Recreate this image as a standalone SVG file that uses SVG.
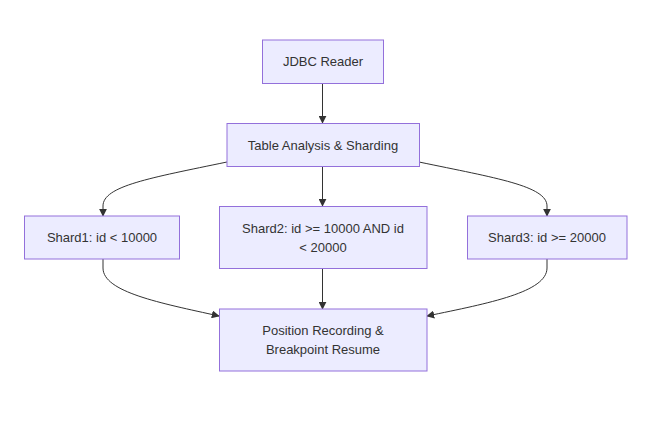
<svg xmlns="http://www.w3.org/2000/svg" width="651" height="421" viewBox="0 0 651 421">
<style>
.node rect{fill:#ECECFF;stroke:#9370DB;stroke-width:1px}
.node text{font-family:"Liberation Sans",Arial,sans-serif;font-size:13px;fill:#333;text-anchor:middle;dominant-baseline:central}
.edge{fill:none;stroke:#333;stroke-width:1px}
</style>
<defs>
<marker id="arrow" viewBox="0 0 10 10" refX="9" refY="5" markerWidth="8" markerHeight="8" markerUnits="userSpaceOnUse" orient="auto">
<path d="M0,0 L10,5 L0,10 z" fill="#333"/>
</marker>
</defs>
<rect width="651" height="421" fill="#fff"/>
<g id="connectors">
<path class="edge" d="M322.5,83 L322.5,123" marker-end="url(#arrow)"/>
<path class="edge" d="M227,162 C150,178 103,186 103,206 L103,216" marker-end="url(#arrow)"/>
<path class="edge" d="M322.5,166.5 L322.5,206" marker-end="url(#arrow)"/>
<path class="edge" d="M419,162 C496,178 547,186 547,206 L547,216" marker-end="url(#arrow)"/>
<path class="edge" d="M103,259 L103,268 C103,292 160,303 219,316" marker-end="url(#arrow)"/>
<path class="edge" d="M322.5,268.5 L322.5,309" marker-end="url(#arrow)"/>
<path class="edge" d="M547,259 L547,268 C547,292 490,303 427,316" marker-end="url(#arrow)"/>
</g>
<g id="jdbc" class="node">
<rect x="262.5" y="40" width="121" height="43.5"/>
<text x="323" y="61.8">JDBC Reader</text>
</g>
<g id="table" class="node">
<rect x="227" y="123.5" width="192.5" height="43"/>
<text x="323" y="145">Table Analysis &amp; Sharding</text>
</g>
<g id="shard1" class="node">
<rect x="24.5" y="216" width="155" height="43"/>
<text x="102" y="237.5">Shard1: id &lt; 10000</text>
</g>
<g id="shard2" class="node">
<rect x="219.5" y="206.5" width="207.5" height="62"/>
<text x="323" y="228.5">Shard2: id &gt;= 10000 AND id</text>
<text x="323" y="247.5">&lt; 20000</text>
</g>
<g id="shard3" class="node">
<rect x="467.5" y="216" width="159.5" height="43"/>
<text x="547" y="237.5">Shard3: id &gt;= 20000</text>
</g>
<g id="position" class="node">
<rect x="219.5" y="309" width="207.5" height="62"/>
<text x="323" y="330.5">Position Recording &amp;</text>
<text x="323" y="349.5">Breakpoint Resume</text>
</g>
</svg>
